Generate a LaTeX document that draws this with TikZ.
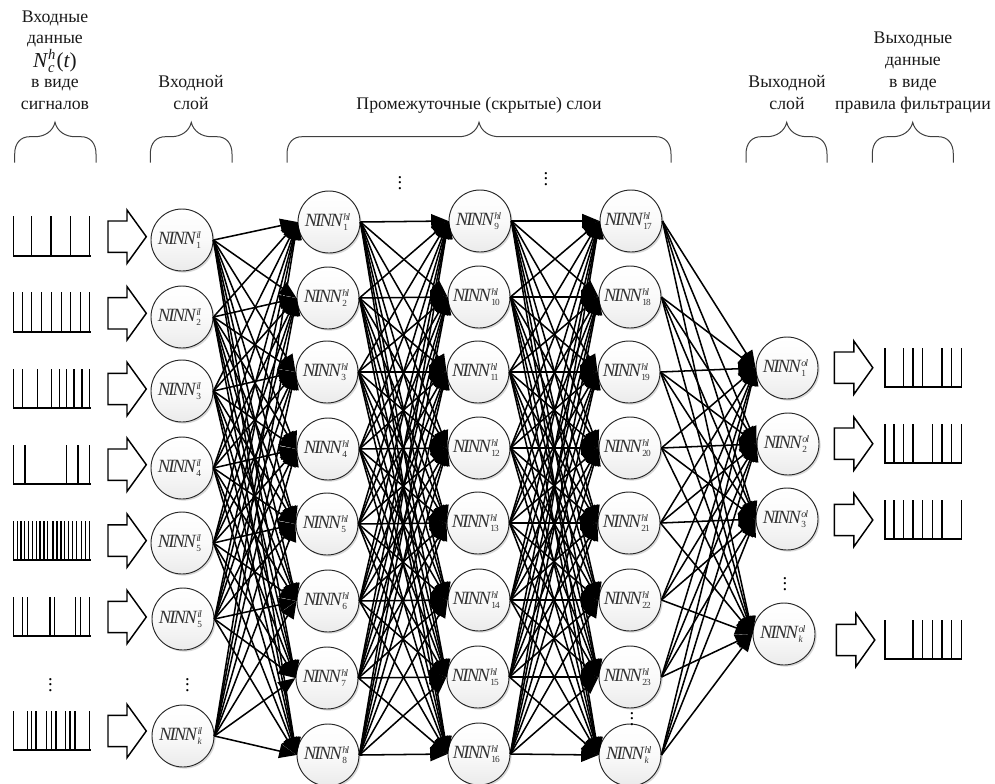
\documentclass[tikz,border=0pt]{standalone}
\usepackage{fontspec}
\setmainfont{Liberation Serif}
\newfontfamily\nnfont[LetterSpace=-10]{Liberation Serif}
\usetikzlibrary{arrows.meta,shadows}
\newcommand{\NN}[2]{\kern-4pt{\fontsize{14}{15}\nnfont\itshape NINN}\kern0.4pt\rlap{\raisebox{4.8pt}{\fontsize{7.5}{8}\nnfont\itshape #1}}\raisebox{-3.2pt}{\fontsize{7}{8}\nnfont #2}}
\tikzset{
  neuron/.style={circle,minimum size=46.5pt,inner sep=0pt,draw=black!85,line width=0.7pt,
    top color=white,bottom color=black!8,middle color=black!2,text=black!80,
    drop shadow={shadow xshift=1.2pt,shadow yshift=-1.2pt,fill=black,opacity=0.15}},
  link/.style={line width=1.15pt,draw=black,-{Triangle[length=13pt,width=10.5pt]}},
  signal/.style={line width=1.2pt,draw=black,line cap=rect},
  blockarrow/.style={line width=1.1pt,draw=black,line join=miter,fill=white},
  bracep/.style={line width=0.75pt,draw=black!75},
  title/.style={align=center,font=\fontsize{13.3}{16}\selectfont,text=black!90,inner sep=0pt},
  dotsn/.style={inner sep=0pt,font=\fontsize{14}{16}\selectfont}
}
\newcommand{\sig}[3]{%
  \foreach \s in {#3}{\draw[signal] (\s/3,#1) -- (\s/3,#2);}}
\begin{document}
\begin{tikzpicture}[x=0.75pt,y=-0.75pt]
\useasboundingbox (0,0) rectangle (995,783);
% Titles
\node[title,anchor=base] (t1a) at (55,22) {Входные};
\node[title,anchor=base] (t1b) at (55,43) {данные};
\node[title,anchor=base] (t1c) at (55,67) {\fontsize{16}{17}\selectfont\itshape N\kern0.5pt\rlap{\raisebox{6pt}{\fontsize{11}{12}\selectfont h}}\raisebox{-4pt}{\fontsize{11}{12}\selectfont c}\kern1.5pt\upshape(\itshape t\upshape)};
\node[title,anchor=base] (t1d) at (55,87) {в виде};
\node[title,anchor=base] (t1e) at (55,109) {сигналов};
\node[title,anchor=base] (t2a) at (191,87) {Входной};
\node[title,anchor=base] (t2b) at (191,109) {слой};
\node[title,anchor=base] (t3) at (479,109) {Промежуточные (скрытые) слои};
\node[title,anchor=base] (t4a) at (787,87) {Выходной};
\node[title,anchor=base] (t4b) at (787,109) {слой};
\node[title,anchor=base] (t5a) at (913,43) {Выходные};
\node[title,anchor=base] (t5b) at (913,65) {данные};
\node[title,anchor=base] (t5c) at (913,87) {в виде};
\node[title,anchor=base] (t5d) at (913,109) {правила фильтрации};
% Braces
\foreach \l/\t/\r in {14.7/55/96,150.3/191.3/232,287/479/671,746/786.7/827,872.3/912.7/953.3}{
  \draw[bracep] (\l,162.7) -- (\l,154) .. controls (\l,143) and (\l+6,136.7) .. (\l+15,136.7)
    -- (\t-20,136.7) .. controls (\t-10,136.7) and (\t-2,131) .. (\t,122.3)
    .. controls (\t+2,131) and (\t+10,136.7) .. (\t+20,136.7)
    -- (\r-15,136.7) .. controls (\r-6,136.7) and (\r,143) .. (\r,154) -- (\r,162.7);
}
% Neurons: input layer
\foreach \n/\x/\y/\s in {1/182/240/1,2/182/317/2,3/182/391/3,4/182/468/4,5/182/543/5,6/183/619/5,7/183/736/{\itshape k}}{
  \node[neuron] (il\n) at (\x,\y) {\NN{il}{\s}};
}
% Hidden layers
\foreach \n/\x/\y/\s in {1/329/222/1,2/328/298/2,3/327/372/3,4/328/449/4,5/327/524/5,6/328/601/6,7/327/678/7,8/328/755/8,
  9/480/221/9,10/479/297/10,11/478/372/11,12/479/448/12,13/478/523/13,14/479/600/14,15/478/677/15,16/479/754/16,
  17/631/221/17,18/630/297/18,19/629/372/19,20/630/448/20,21/629/523/21,22/630/600/22,23/630/677/23,24/630/755/{\itshape k}}{
  \node[neuron] (hl\n) at (\x,\y) {\NN{hl}{\s}};
}
% Output layer
\foreach \n/\x/\y/\s in {1/787/368/1,2/788/444/2,3/787/519/3,4/784/634/{\itshape k}}{
  \node[neuron] (ol\n) at (\x,\y) {\NN{ol}{\s}};
}
% Links
\foreach \a in {1,...,7}{\foreach \b in {1,...,8}{\draw[link] (il\a.east) -- (hl\b.west);}}
\foreach \a in {1,...,8}{\foreach \b in {9,...,16}{\draw[link] (hl\a.east) -- (hl\b.west);}}
\foreach \a in {9,...,16}{\foreach \b in {17,...,24}{\draw[link] (hl\a.east) -- (hl\b.west);}}
\foreach \a in {17,...,24}{\foreach \b in {1,...,4}{\draw[link] (hl\a.east) -- (ol\b.west);}}
% Dots
\node[dotsn] (d1) at (50.5,681) {$\vdots$};
\node[dotsn] (d2) at (187.5,681) {$\vdots$};
\node[dotsn] (d3) at (400,179) {$\vdots$};
\node[dotsn] (d4) at (546,175) {$\vdots$};
\node[dotsn] (d5) at (785,580) {$\vdots$};
\node[dotsn] (d6) at (632,715) {$\vdots$};
% Block arrows, input
\foreach \c in {236.7,313.3,389,464.7,540.6,617,731}{
  \draw[blockarrow] (108,\c-15.7) -- (127,\c-15.7) -- (127,\c-26.7) -- (146.3,\c) -- (127,\c+26.7) -- (127,\c+15.7) -- (108,\c+15.7) -- cycle;
}
% Block arrows, output
\foreach \x/\c in {834.3/367.7,834.3/443.7,834.3/520,836.3/640}{
  \draw[blockarrow] (\x,\c-15.7) -- (\x+19.5,\c-15.7) -- (\x+19.5,\c-26.7) -- (\x+38.5,\c) -- (\x+19.5,\c+26.7) -- (\x+19.5,\c+15.7) -- (\x,\c+15.7) -- cycle;
}
% Input signals
\draw[signal] (13.3,255.7) -- (89.7,255.7); \sig{255.7}{217}{40,95,153,211,269}
\draw[signal] (13.3,331.7) -- (89.7,331.7); \sig{331.7}{293}{40,67,95,125,155,185,212,241,269}
\draw[signal] (13.3,407.7) -- (89.7,407.7); \sig{407.7}{369.5}{40,68,113,155,178,200,222,246,269}
\draw[signal] (13.3,483.7) -- (89.7,483.7); \sig{483.7}{445.5}{40,75,200,234,269}
\draw[signal] (13.3,560) -- (89.7,560); \sig{560}{521.7}{41,52,63,74,86,98,109,120,132,143,159,171,183,194,206,218,230,244,256,269}
\draw[signal] (13.3,635.7) -- (89.7,635.7); \sig{635.7}{597.3}{40,68,82,150,163,227,241,269}
\draw[signal] (13.3,750) -- (89.7,750); \sig{750}{711.7}{40,82,95,108,140,155,168,197,210,225,269}
% Output signals (x given in thirds of a pixel)
\draw[signal] (885,386.7) -- (961.3,386.7); \sig{386.7}{348.7}{2655,2710,2739,2768,2826,2855,2884}
\draw[signal] (885,462.7) -- (961.3,462.7); \sig{462.7}{424.7}{2655,2682,2710,2739,2797,2826,2855,2884}
\draw[signal] (885,538.7) -- (961.3,538.7); \sig{538.7}{500.7}{2655,2682,2710,2739,2768,2797,2826,2884}
\draw[signal] (885,659) -- (961.3,659); \sig{659}{621}{2655,2739,2768,2797,2826,2855,2884}
\end{tikzpicture}
\end{document}
